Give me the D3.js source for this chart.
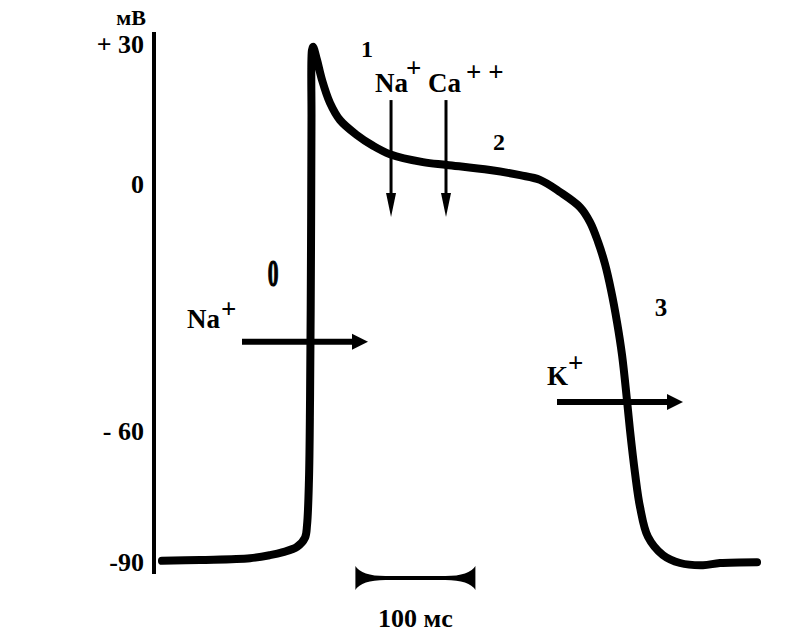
<!DOCTYPE html>
<html><head><meta charset="utf-8">
<script src="https://cdn.jsdelivr.net/npm/d3@7"></script>
<style>
body{margin:0;background:#fff;}
text{font-family:"Liberation Serif","Times New Roman",serif;font-weight:bold;fill:#000;}
</style></head>
<body><svg id="c" width="786" height="642"></svg>
<script>
// Action potential trace: time (ms), membrane potential (mV)
const timeMs = [5.8, 37.5, 79.2, 95.8, 106.7, 118.3, 125, 126.7, 128.3, 129.2, 130, 130.4, 130.8, 131.7, 135, 139.2, 145.8, 154.2, 168.3, 181.7, 195.8, 223.3, 243.3, 279.2, 304.2, 320.8, 337.5, 354.2, 362.5, 369.2, 375, 380, 385, 389.2, 393.3, 395.8, 400, 404.2, 410.8, 423.3, 437.5, 456.7, 470.8, 501.7];
const voltageMv = [-89.5, -89.3, -88.9, -88.2, -87.5, -86.3, -84.2, -81.3, -71, -52.2, -15.8, 13.9, 28.9, 29.6, 26.8, 22.5, 17.6, 13.9, 10.7, 8.4, 6.6, 4.9, 4.3, 3.2, 2.1, 1.1, -1.7, -5.4, -9.0, -13.8, -19.2, -25.5, -33.3, -41.3, -52.2, -59.5, -69.4, -77.2, -84, -88.2, -90, -90.5, -90, -89.8];
const tickValues = [30, 0, -60, -90];
const tickLabels = ["+ 30", "0", "- 60", "-90"];
const unitLabel = "мВ";
const scaleBarMs = [167, 267];
const scaleBarLabel = "100 мс";
// ion current arrows
const arrowsDown = [{ion:"Na", t:196.7, v0:18.2, v1:-7.8}, {ion:"Ca", t:242.5, v0:18.2, v1:-7.8}];
const arrowsRight = [{t0:72.5, t1:177.5, v:-38.1}, {t0:335, t1:440, v:-52.7}];

const svg = d3.select("#c");
const x = d3.scaleLinear().domain([0, 500]).range([155, 755]);
const y = d3.scaleLinear().domain([-90, -60, 0, 30]).range([563, 432, 185, 45]);

// axis line
svg.append("line").attr("x1", 154).attr("x2", 154).attr("y1", 32).attr("y2", 574)
  .attr("stroke", "#000").attr("stroke-width", 4);
svg.selectAll(".tl").data(tickValues).enter().append("text")
  .attr("x", 144).attr("y", d => y(d) + 8).attr("text-anchor", "end")
  .style("font-size", "26px").text((d, i) => tickLabels[i]);
svg.append("text").attr("x", 146).attr("y", 25).attr("text-anchor", "end")
  .style("font-size", "22px").text(unitLabel);

// trace
const line = d3.line().x((d, i) => x(timeMs[i])).y(d => y(d)).curve(d3.curveCatmullRom.alpha(0.5));
svg.append("path").attr("d", line(voltageMv)).attr("fill", "none").attr("stroke", "#000")
  .attr("stroke-width", 8).attr("stroke-linecap", "round").attr("stroke-linejoin", "round");

// down arrows
arrowsDown.forEach(a => {
  const xx = x(a.t), y0 = y(a.v0), y1 = y(a.v1);
  svg.append("line").attr("x1", xx).attr("x2", xx).attr("y1", y0).attr("y2", y1 - 20)
    .attr("stroke", "#000").attr("stroke-width", 3);
  svg.append("path").attr("d", `M${xx-5},${y1-24} L${xx+5},${y1-24} L${xx},${y1} Z`).attr("fill", "#000");
});
// right arrows
arrowsRight.forEach(a => {
  const x0 = x(a.t0), x1 = x(a.t1), yy = y(a.v);
  svg.append("line").attr("x1", x0).attr("x2", x1 - 12).attr("y1", yy).attr("y2", yy)
    .attr("stroke", "#000").attr("stroke-width", 6);
  svg.append("path").attr("d", `M${x1-16},${yy-8} L${x1},${yy} L${x1-16},${yy+8} Z`).attr("fill", "#000");
});

// scale bar
const sb0 = x(scaleBarMs[0]), sb1 = x(scaleBarMs[1]), sby = 578;
svg.append("path").attr("d",
  `M${sb0},${sby-12} Q${sb0+6},${sby-2} ${sb0+30},${sby-2} L${sb1-30},${sby-2} Q${sb1-6},${sby-2} ${sb1},${sby-12}` +
  ` L${sb1},${sby+12} Q${sb1-6},${sby+2} ${sb1-30},${sby+2} L${sb0+30},${sby+2} Q${sb0+6},${sby+2} ${sb0},${sby+12} Z`)
  .attr("fill", "#000");
svg.append("text").attr("x", (sb0 + sb1) / 2).attr("y", 627).attr("text-anchor", "middle")
  .style("font-size", "26px").text(scaleBarLabel);

// labels
function lbl(tx, ty, s, size, anchor) {
  return svg.append("text").attr("x", tx).attr("y", ty).attr("text-anchor", anchor || "start")
    .style("font-size", size + "px").text(s);
}
lbl(367, 57, "1", 24, "middle");
lbl(499, 150, "2", 24, "middle");
lbl(661, 316, "3", 25, "middle");
lbl(375, 92, "Na", 27);
lbl(406, 77, "+", 27);
lbl(428, 92, "Ca", 27);
lbl(466, 81, "+ +", 27);
lbl(187, 328, "Na", 27);
lbl(221, 318, "+", 27);
lbl(547, 385, "K", 27);
lbl(568, 372, "+", 27);
svg.append("text").attr("transform", "translate(273,286) scale(0.58,1)").attr("text-anchor", "middle")
  .attr("stroke", "#000").attr("stroke-width", 1.2)
  .style("font-size", "37px").text("0");
</script></body></html>
